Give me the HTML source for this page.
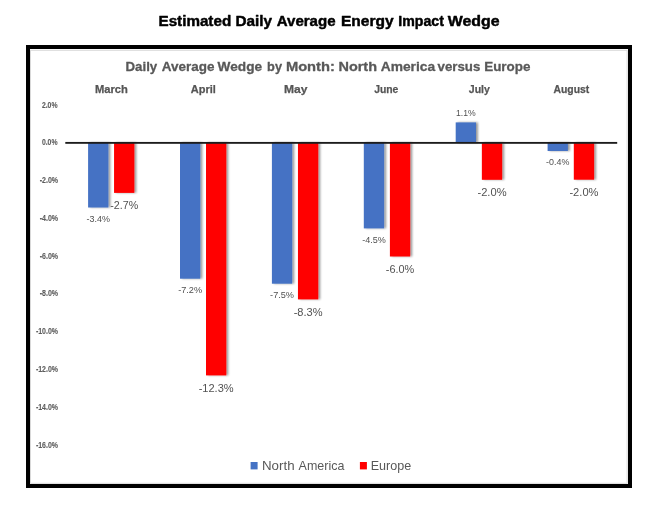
<!DOCTYPE html>
<html><head><meta charset="utf-8"><title>Estimated Daily Average Energy Impact Wedge</title>
<style>
html,body{margin:0;padding:0;background:#fff;}
body{width:656px;height:509px;overflow:hidden;font-family:"Liberation Sans",sans-serif;}
svg{display:block;position:absolute;left:0;top:0;}
svg text{font-family:"Liberation Sans",sans-serif;}
</style></head><body>
<svg width="656" height="509" viewBox="0 0 656 509">
<defs>
<filter id="sh" x="-30%" y="-10%" width="180%" height="130%">
<feGaussianBlur in="SourceAlpha" stdDeviation="1.3"/>
<feOffset dx="2.4" dy="0" result="o"/>
<feComponentTransfer><feFuncA type="linear" slope="0.4"/></feComponentTransfer>
<feMerge><feMergeNode/><feMergeNode in="SourceGraphic"/></feMerge>
</filter>
<filter id="tb" x="-5%" y="-5%" width="110%" height="110%"><feGaussianBlur stdDeviation="0.35"/></filter>
</defs>
<rect x="0" y="0" width="656" height="509" fill="#fff"/>

<rect x="28" y="47" width="602" height="439" fill="#fff" stroke="#000" stroke-width="4"/>
<rect x="30.5" y="50.3" width="596.6" height="433" fill="none" stroke="#d9d9d9" stroke-width="1"/>
<g filter="url(#sh)">
<rect x="88.10" y="142.60" width="20.3" height="64.90" fill="#4472C4"/>
<rect x="114.05" y="142.60" width="20.3" height="50.30" fill="#FF0000"/>
<rect x="180.00" y="142.60" width="20.3" height="136.10" fill="#4472C4"/>
<rect x="206.00" y="142.60" width="20.3" height="232.80" fill="#FF0000"/>
<rect x="271.90" y="142.60" width="20.3" height="141.10" fill="#4472C4"/>
<rect x="297.95" y="142.60" width="20.3" height="156.80" fill="#FF0000"/>
<rect x="363.80" y="142.60" width="20.3" height="85.80" fill="#4472C4"/>
<rect x="389.90" y="142.60" width="20.3" height="113.90" fill="#FF0000"/>
<rect x="455.70" y="122.40" width="20.3" height="20.20" fill="#4472C4"/>
<rect x="481.85" y="142.60" width="20.3" height="37.20" fill="#FF0000"/>
<rect x="547.60" y="142.60" width="20.3" height="8.40" fill="#4472C4"/>
<rect x="573.80" y="142.60" width="20.3" height="37.10" fill="#FF0000"/>
</g>
<rect x="65.3" y="141.95" width="551.9" height="1.85" fill="#1c1c1c"/>
<rect x="250.6" y="462" width="7" height="7.4" fill="#4472C4"/>
<rect x="359.9" y="462" width="7" height="7.4" fill="#FF0000"/>
<g filter="url(#tb)">
<text x="158.50" y="25.50" font-size="14.3" font-weight="700" stroke="#000" stroke-width="0.45" stroke-linejoin="round" fill="#000" text-anchor="start" textLength="72.70" lengthAdjust="spacingAndGlyphs">Estimated</text>
<text x="235.50" y="25.50" font-size="14.3" font-weight="700" stroke="#000" stroke-width="0.45" stroke-linejoin="round" fill="#000" text-anchor="start" textLength="36.60" lengthAdjust="spacingAndGlyphs">Daily</text>
<text x="276.70" y="25.50" font-size="14.3" font-weight="700" stroke="#000" stroke-width="0.45" stroke-linejoin="round" fill="#000" text-anchor="start" textLength="58.90" lengthAdjust="spacingAndGlyphs">Average</text>
<text x="341.00" y="25.50" font-size="14.3" font-weight="700" stroke="#000" stroke-width="0.45" stroke-linejoin="round" fill="#000" text-anchor="start" textLength="52.60" lengthAdjust="spacingAndGlyphs">Energy</text>
<text x="398.30" y="25.50" font-size="14.3" font-weight="700" stroke="#000" stroke-width="0.45" stroke-linejoin="round" fill="#000" text-anchor="start" textLength="45.60" lengthAdjust="spacingAndGlyphs">Impact</text>
<text x="447.80" y="25.50" font-size="14.3" font-weight="700" stroke="#000" stroke-width="0.45" stroke-linejoin="round" fill="#000" text-anchor="start" textLength="51.80" lengthAdjust="spacingAndGlyphs">Wedge</text>
<text x="125.50" y="71.40" font-size="12.9" font-weight="700" stroke="#595959" stroke-width="0.3" stroke-linejoin="round" fill="#595959" text-anchor="start" textLength="31.70" lengthAdjust="spacingAndGlyphs">Daily</text>
<text x="161.80" y="71.40" font-size="12.9" font-weight="700" stroke="#595959" stroke-width="0.3" stroke-linejoin="round" fill="#595959" text-anchor="start" textLength="52.60" lengthAdjust="spacingAndGlyphs">Average</text>
<text x="217.60" y="71.40" font-size="12.9" font-weight="700" stroke="#595959" stroke-width="0.3" stroke-linejoin="round" fill="#595959" text-anchor="start" textLength="44.50" lengthAdjust="spacingAndGlyphs">Wedge</text>
<text x="267.10" y="71.40" font-size="12.9" font-weight="700" stroke="#595959" stroke-width="0.3" stroke-linejoin="round" fill="#595959" text-anchor="start" textLength="14.90" lengthAdjust="spacingAndGlyphs">by</text>
<text x="285.90" y="71.40" font-size="12.9" font-weight="700" stroke="#595959" stroke-width="0.3" stroke-linejoin="round" fill="#595959" text-anchor="start" textLength="49.00" lengthAdjust="spacingAndGlyphs">Month:</text>
<text x="338.50" y="71.40" font-size="12.9" font-weight="700" stroke="#595959" stroke-width="0.3" stroke-linejoin="round" fill="#595959" text-anchor="start" textLength="38.50" lengthAdjust="spacingAndGlyphs">North</text>
<text x="380.70" y="71.40" font-size="12.9" font-weight="700" stroke="#595959" stroke-width="0.3" stroke-linejoin="round" fill="#595959" text-anchor="start" textLength="54.40" lengthAdjust="spacingAndGlyphs">America</text>
<text x="437.60" y="71.40" font-size="12.9" font-weight="700" stroke="#595959" stroke-width="0.3" stroke-linejoin="round" fill="#595959" text-anchor="start" textLength="42.70" lengthAdjust="spacingAndGlyphs">versus</text>
<text x="484.20" y="71.40" font-size="12.9" font-weight="700" stroke="#595959" stroke-width="0.3" stroke-linejoin="round" fill="#595959" text-anchor="start" textLength="46.20" lengthAdjust="spacingAndGlyphs">Europe</text>
<text x="95.00" y="93.00" font-size="10.8" font-weight="700" stroke="#555555" stroke-width="0.25" stroke-linejoin="round" fill="#555555" text-anchor="start" textLength="32.90" lengthAdjust="spacingAndGlyphs">March</text>
<text x="190.80" y="93.00" font-size="10.8" font-weight="700" stroke="#555555" stroke-width="0.25" stroke-linejoin="round" fill="#555555" text-anchor="start" textLength="25.10" lengthAdjust="spacingAndGlyphs">April</text>
<text x="284.00" y="93.00" font-size="10.8" font-weight="700" stroke="#555555" stroke-width="0.25" stroke-linejoin="round" fill="#555555" text-anchor="start" textLength="23.50" lengthAdjust="spacingAndGlyphs">May</text>
<text x="374.20" y="93.00" font-size="10.8" font-weight="700" stroke="#555555" stroke-width="0.25" stroke-linejoin="round" fill="#555555" text-anchor="start" textLength="24.20" lengthAdjust="spacingAndGlyphs">June</text>
<text x="468.80" y="93.00" font-size="10.8" font-weight="700" stroke="#555555" stroke-width="0.25" stroke-linejoin="round" fill="#555555" text-anchor="start" textLength="21.10" lengthAdjust="spacingAndGlyphs">July</text>
<text x="553.50" y="93.00" font-size="10.8" font-weight="700" stroke="#555555" stroke-width="0.25" stroke-linejoin="round" fill="#555555" text-anchor="start" textLength="35.80" lengthAdjust="spacingAndGlyphs">August</text>
<text x="41.90" y="107.78" font-size="8.2" font-weight="700" stroke="#5c5c5c" stroke-width="0.1" stroke-linejoin="round" fill="#5c5c5c" text-anchor="start" textLength="15.60" lengthAdjust="spacingAndGlyphs">2.0%</text>
<text x="41.90" y="145.20" font-size="8.2" font-weight="700" stroke="#5c5c5c" stroke-width="0.1" stroke-linejoin="round" fill="#5c5c5c" text-anchor="start" textLength="15.60" lengthAdjust="spacingAndGlyphs">0.0%</text>
<text x="39.70" y="183.02" font-size="8.2" font-weight="700" stroke="#5c5c5c" stroke-width="0.1" stroke-linejoin="round" fill="#5c5c5c" text-anchor="start" textLength="18.40" lengthAdjust="spacingAndGlyphs">-2.0%</text>
<text x="39.70" y="220.84" font-size="8.2" font-weight="700" stroke="#5c5c5c" stroke-width="0.1" stroke-linejoin="round" fill="#5c5c5c" text-anchor="start" textLength="18.40" lengthAdjust="spacingAndGlyphs">-4.0%</text>
<text x="39.70" y="258.66" font-size="8.2" font-weight="700" stroke="#5c5c5c" stroke-width="0.1" stroke-linejoin="round" fill="#5c5c5c" text-anchor="start" textLength="18.40" lengthAdjust="spacingAndGlyphs">-6.0%</text>
<text x="39.70" y="296.48" font-size="8.2" font-weight="700" stroke="#5c5c5c" stroke-width="0.1" stroke-linejoin="round" fill="#5c5c5c" text-anchor="start" textLength="18.40" lengthAdjust="spacingAndGlyphs">-8.0%</text>
<text x="35.90" y="334.30" font-size="8.2" font-weight="700" stroke="#5c5c5c" stroke-width="0.1" stroke-linejoin="round" fill="#5c5c5c" text-anchor="start" textLength="22.10" lengthAdjust="spacingAndGlyphs">-10.0%</text>
<text x="35.90" y="372.12" font-size="8.2" font-weight="700" stroke="#5c5c5c" stroke-width="0.1" stroke-linejoin="round" fill="#5c5c5c" text-anchor="start" textLength="22.10" lengthAdjust="spacingAndGlyphs">-12.0%</text>
<text x="35.90" y="409.94" font-size="8.2" font-weight="700" stroke="#5c5c5c" stroke-width="0.1" stroke-linejoin="round" fill="#5c5c5c" text-anchor="start" textLength="22.10" lengthAdjust="spacingAndGlyphs">-14.0%</text>
<text x="35.90" y="447.76" font-size="8.2" font-weight="700" stroke="#5c5c5c" stroke-width="0.1" stroke-linejoin="round" fill="#5c5c5c" text-anchor="start" textLength="22.10" lengthAdjust="spacingAndGlyphs">-16.0%</text>
<text x="86.55" y="221.80" font-size="8.8" fill="#505050" text-anchor="start" textLength="23.40" lengthAdjust="spacingAndGlyphs">-3.4%</text>
<text x="110.25" y="209.40" font-size="11.4" fill="#525252" text-anchor="start" textLength="27.90" lengthAdjust="spacingAndGlyphs">-2.7%</text>
<text x="178.20" y="293.00" font-size="8.8" fill="#505050" text-anchor="start" textLength="23.90" lengthAdjust="spacingAndGlyphs">-7.2%</text>
<text x="198.65" y="391.90" font-size="11.4" fill="#525252" text-anchor="start" textLength="35.00" lengthAdjust="spacingAndGlyphs">-12.3%</text>
<text x="270.10" y="298.00" font-size="8.8" fill="#505050" text-anchor="start" textLength="23.90" lengthAdjust="spacingAndGlyphs">-7.5%</text>
<text x="293.65" y="315.90" font-size="11.4" fill="#525252" text-anchor="start" textLength="28.90" lengthAdjust="spacingAndGlyphs">-8.3%</text>
<text x="362.15" y="242.70" font-size="8.8" fill="#505050" text-anchor="start" textLength="23.60" lengthAdjust="spacingAndGlyphs">-4.5%</text>
<text x="385.80" y="273.00" font-size="11.4" fill="#525252" text-anchor="start" textLength="28.50" lengthAdjust="spacingAndGlyphs">-6.0%</text>
<text x="456.00" y="116.40" font-size="8.8" fill="#505050" text-anchor="start" textLength="19.70" lengthAdjust="spacingAndGlyphs">1.1%</text>
<text x="477.45" y="196.30" font-size="11.4" fill="#525252" text-anchor="start" textLength="29.10" lengthAdjust="spacingAndGlyphs">-2.0%</text>
<text x="546.10" y="165.30" font-size="8.8" fill="#505050" text-anchor="start" textLength="23.30" lengthAdjust="spacingAndGlyphs">-0.4%</text>
<text x="569.40" y="196.20" font-size="11.4" fill="#525252" text-anchor="start" textLength="29.10" lengthAdjust="spacingAndGlyphs">-2.0%</text>
<text x="262.00" y="469.50" font-size="12.2" fill="#595959" text-anchor="start" textLength="32.60" lengthAdjust="spacingAndGlyphs">North</text>
<text x="298.60" y="469.50" font-size="12.2" fill="#595959" text-anchor="start" textLength="45.80" lengthAdjust="spacingAndGlyphs">America</text>
<text x="370.70" y="469.50" font-size="12.2" fill="#595959" text-anchor="start" textLength="40.50" lengthAdjust="spacingAndGlyphs">Europe</text>
</g>
</svg>
</body></html>
